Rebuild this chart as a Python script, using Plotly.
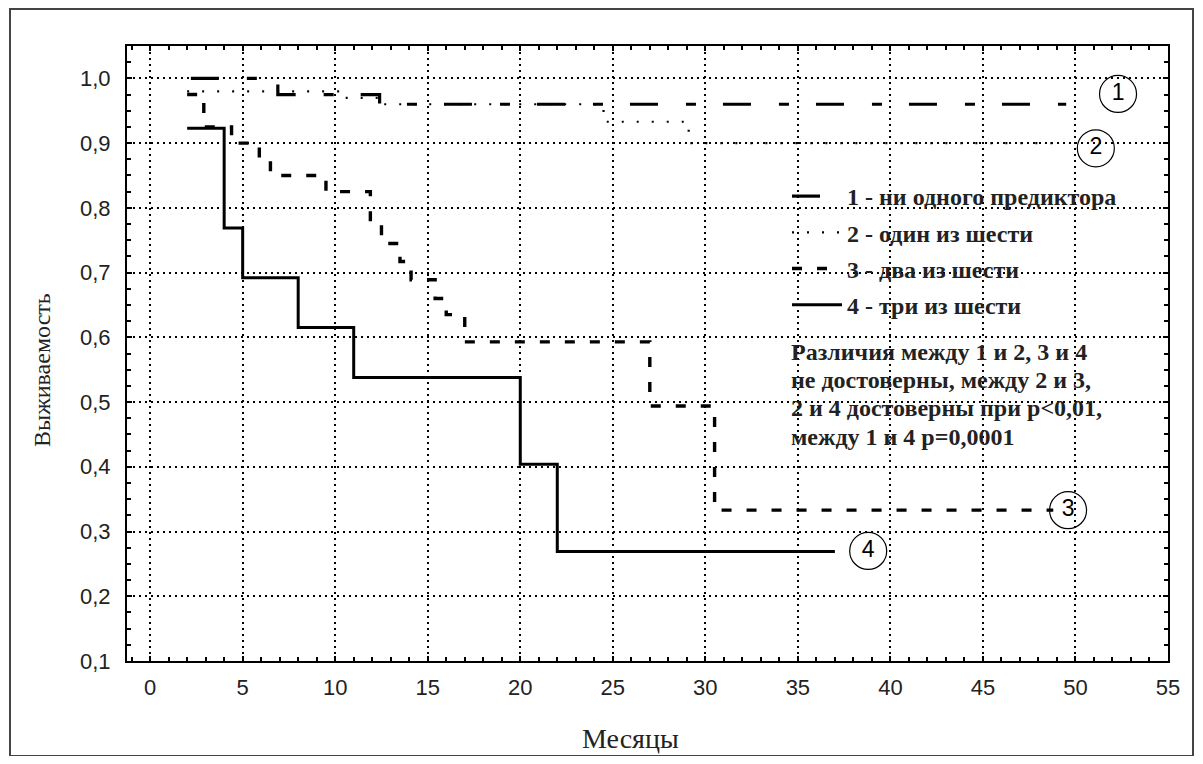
import plotly.graph_objects as go

# Kaplan-Meier curves (months, survival)
months_1 = [2.2, 6.9, 12.4, 49.5]
surv_1 = [1.0, 0.975, 0.96, 0.96]

months_2 = [2.0, 10.5, 12.6, 24.5, 29.1, 49.2]
surv_2 = [0.98, 0.97, 0.96, 0.933, 0.90, 0.90]

months_3 = [2.0, 2.9, 4.4, 5.9, 6.5, 9.5, 11.9, 12.5, 13.5, 14.1, 15.4, 16.0, 17.0, 27.0, 30.5, 48.8]
surv_3 = [0.975, 0.925, 0.90, 0.875, 0.85, 0.825, 0.777, 0.745, 0.717, 0.689, 0.66, 0.635, 0.593, 0.494, 0.333, 0.333]

months_4 = [2.0, 4.0, 5.0, 8.0, 11.0, 20.0, 22.0, 37.0]
surv_4 = [0.923, 0.769, 0.692, 0.615, 0.538, 0.404, 0.269, 0.269]

series_names = ["1 - ни одного предиктора", "2 - один из шести", "3 - два из шести", "4 - три из шести"]

# circled curve numbers
label_text = ["1", "2", "3", "4"]
label_x = [52.3, 51.1, 49.6, 38.8]
label_y = [0.976, 0.892, 0.333, 0.27]

note_lines = ["Различия между 1 и 2, 3 и 4", "не достоверны, между 2 и 3,",
              "2 и 4 достоверны при p&lt;0,01,", "между 1 и 4 p=0,0001"]

x_title = "Месяцы"
y_title = "Выживаемость"

x_ticks = list(range(0, 56, 5))
y_ticks = [0.1, 0.2, 0.3, 0.4, 0.5, 0.6, 0.7, 0.8, 0.9, 1.0]

# page has an 8px body margin: figure is placed at (8, 8)
OFF = 8
W, H = 1203 - 2 * OFF, 764 - 2 * OFF
PL, PR, PT, PB = 127, 1168, 46, 661          # plot area in page pixels
ML, MR, MT, MB = PL - OFF, W - (PR - OFF), PT - OFF, H - (PB - OFF)
PW, PH = PR - PL, PB - PT

def px2paper_x(px):
    return (px - PL) / PW

def px2paper_y(py):
    return (PB - py) / PH

fig = go.Figure()

styles = [
    dict(width=3.2, dash="28px,28px,10px,27px"),
    dict(width=2.2, dash="2px,13px"),
    dict(width=3.4, dash="10px,15px"),
    dict(width=3, dash="solid"),
]
xs = [months_1, months_2, months_3, months_4]
ys = [surv_1, surv_2, surv_3, surv_4]
for i in range(4):
    fig.add_trace(go.Scatter(
        x=xs[i], y=ys[i], mode="lines",
        line=dict(shape="hv", color="black", **styles[i]),
        name="<b>" + series_names[i] + "</b>",
        legendgroup="g%d" % i,
        hoverinfo="skip",
    ))

fig.add_trace(go.Scatter(
    x=label_x, y=label_y, mode="markers+text", text=label_text,
    textposition="middle center",
    textfont=dict(family="Liberation Sans", size=23, color="black"),
    marker=dict(symbol="circle-open", size=37, color="black", line=dict(width=1.2)),
    showlegend=False, hoverinfo="skip",
))

# white box behind legend and note (covers gridlines)
fig.add_shape(type="rect", xref="paper", yref="paper",
              x0=px2paper_x(782), x1=px2paper_x(1127),
              y0=px2paper_y(462), y1=px2paper_y(168),
              fillcolor="white", line=dict(width=0), layer="between")

# outer frame
fig.add_shape(type="rect", xref="paper", yref="paper",
              x0=px2paper_x(10), x1=px2paper_x(1193),
              y0=px2paper_y(756), y1=px2paper_y(9),
              fillcolor="rgba(0,0,0,0)", line=dict(color="#444444", width=2), layer="above")

note_y = [352, 380, 408, 437]
for line, yy in zip(note_lines, note_y):
    fig.add_annotation(
        xref="paper", yref="paper", x=px2paper_x(789), y=px2paper_y(yy),
        xanchor="left", yanchor="middle", align="left", showarrow=False,
        text="<b>" + line + "</b>",
        font=dict(family="Liberation Serif", size=24, color="#222222"),
    )

# axis titles
fig.add_annotation(
    xref="paper", yref="paper", x=px2paper_x(630), y=px2paper_y(738),
    xanchor="center", yanchor="middle", showarrow=False, text=x_title,
    font=dict(family="Liberation Serif", size=28, color="#222222"),
)
fig.add_annotation(
    xref="paper", yref="paper", x=px2paper_x(42), y=px2paper_y(370),
    xanchor="center", yanchor="middle", showarrow=False, text=y_title, textangle=-90,
    font=dict(family="Liberation Serif", size=24, color="#222222"),
)

axis_common = dict(
    showline=True, linecolor="black", linewidth=2, mirror="allticks",
    ticks="inside", ticklen=5, tickwidth=1.5, tickcolor="black",
    showgrid=True, gridcolor="black", gridwidth=1.5, griddash="2px,4px",
    zeroline=False,
    tickfont=dict(family="Liberation Sans", size=22, color="#222222"),
)

fig.update_xaxes(
    range=[-1.25, 55], tickvals=x_ticks, ticktext=[str(v) for v in x_ticks],
    minor=dict(dtick=1, ticks="inside", ticklen=4, tickwidth=1.5, tickcolor="black", showgrid=False),
    ticklabelstandoff=6,
    **axis_common,
)
fig.update_yaxes(
    range=[0.1, 1.05], tickvals=y_ticks, tickformat=".1f",
    minor=dict(dtick=0.025, tick0=0.1, ticks="inside", ticklen=4, tickwidth=1.5, tickcolor="black", showgrid=False),
    ticklabelstandoff=10,
    **axis_common,
)

fig.update_layout(
    width=W, height=H,
    margin=dict(l=ML, r=MR, t=MT, b=MB, autoexpand=False),
    paper_bgcolor="white", plot_bgcolor="white",
    separators=", ",
    showlegend=True,
    legend=dict(
        x=px2paper_x(787), y=px2paper_y(174), xanchor="left", yanchor="top",
        bgcolor="rgba(0,0,0,0)", borderwidth=0,
        font=dict(family="Liberation Serif", size=24, color="#222222"),
        tracegroupgap=2, itemwidth=50,
    ),
)

fig.write_html("out.html")
